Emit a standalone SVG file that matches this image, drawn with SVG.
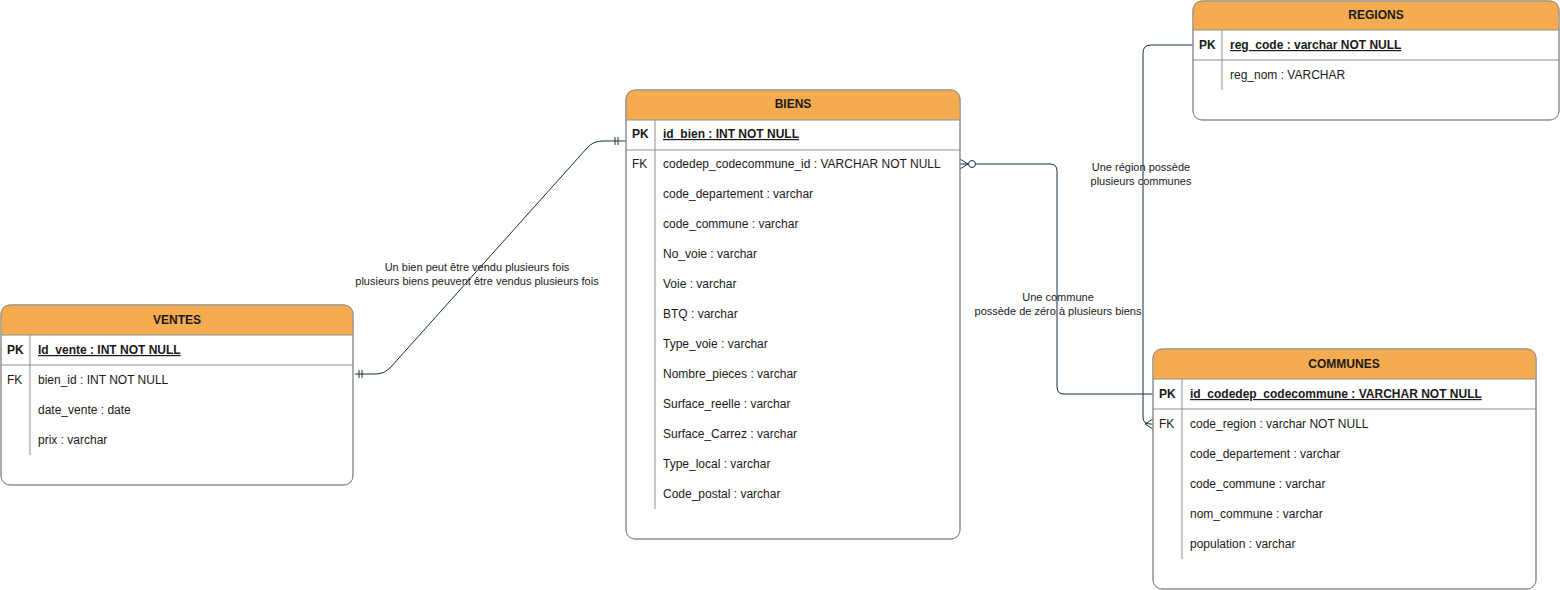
<svg xmlns="http://www.w3.org/2000/svg" width="1560" height="590" viewBox="0 0 1560 590">
<style>
text{font-family:"Liberation Sans",Arial,Helvetica,sans-serif;font-size:12px;fill:#1a1a1a}
.h{font-weight:bold;text-anchor:middle}
.pk{font-weight:bold}
.u{font-weight:bold;text-decoration:underline}
.lbl{font-size:11px;text-anchor:middle}
.box{fill:#ffffff;stroke:#8f8f8f;stroke-width:1}
.out{fill:none;stroke:#8f8f8f;stroke-width:1}
.hd{fill:#F5AB50}
.ln{stroke:#8f8f8f;stroke-width:1;fill:none}
.c{fill:none;stroke:#182E3E;stroke-width:1}
</style>
<rect width="1560" height="590" fill="#ffffff"/>
<g id="connectors">
  <path class="c" d="M355,374 L377,374 Q384,374 390,368 L587,148 Q593,141 603,141 L626,141"/>
  <path class="c" d="M359,370 V378 M362,370 V378"/>
  <path class="c" d="M615,137 V145 M618,137 V145"/>
  <path class="c" d="M976,164 L1050,164 Q1057,164 1057,171 L1057,387 Q1057,394 1064,394 L1153,394"/>
  <path class="c" d="M960,164 H968 M960,159 L968,164 L960,169"/>
  <circle cx="972" cy="164" r="3.5" fill="#ffffff" stroke="#182E3E" stroke-width="1"/>
  <path class="c" d="M1193,45 L1151,45 Q1143,45 1143,53 L1143,417 Q1143,424 1150,424 L1153,424"/>
  <path class="c" d="M1153,419 L1145,424 L1153,429"/>
  <text class="lbl" x="477" y="271">Un bien peut être vendu plusieurs fois</text>
  <text class="lbl" x="477" y="285">plusieurs biens peuvent être vendus plusieurs fois</text>
  <text class="lbl" x="1141" y="171">Une région possède</text>
  <text class="lbl" x="1141" y="185">plusieurs communes</text>
  <text class="lbl" x="1058" y="301">Une commune</text>
  <text class="lbl" x="1058" y="315">possède de zéro à plusieurs biens</text>
</g>
<g id="ventes">
  <rect class="box" x="1" y="305" width="352" height="180" rx="9"/>
  <path class="hd" d="M1,335 V314 Q1,305 10,305 H344 Q353,305 353,314 V335 Z"/>
  <rect class="out" x="1" y="305" width="352" height="180" rx="9"/>
  <path class="ln" d="M1,335 H353 M1,365 H353 M30,335 V455"/>
  <text class="h" x="177" y="324">VENTES</text>
  <text class="pk" x="7" y="354">PK</text>
  <text class="u" x="38" y="354">Id_vente : INT NOT NULL</text>
  <text x="7" y="384">FK</text>
  <text x="38" y="384">bien_id : INT NOT NULL</text>
  <text x="38" y="414">date_vente : date</text>
  <text x="38" y="444">prix : varchar</text>
</g>
<g id="biens">
  <rect class="box" x="626" y="90" width="334" height="449" rx="9"/>
  <path class="hd" d="M626,120 V99 Q626,90 635,90 H951 Q960,90 960,99 V120 Z"/>
  <rect class="out" x="626" y="90" width="334" height="449" rx="9"/>
  <path class="ln" d="M626,120 H960 M626,150 H960 M655,120 V509"/>
  <text class="h" x="793" y="108">BIENS</text>
  <text class="pk" x="632" y="138">PK</text>
  <text class="u" x="663" y="138">id_bien : INT NOT NULL</text>
  <text x="632" y="168">FK</text>
  <text x="663" y="168">codedep_codecommune_id : VARCHAR NOT NULL</text>
  <text x="663" y="198">code_departement : varchar</text>
  <text x="663" y="228">code_commune : varchar</text>
  <text x="663" y="258">No_voie : varchar</text>
  <text x="663" y="288">Voie : varchar</text>
  <text x="663" y="318">BTQ : varchar</text>
  <text x="663" y="348">Type_voie : varchar</text>
  <text x="663" y="378">Nombre_pieces : varchar</text>
  <text x="663" y="408">Surface_reelle : varchar</text>
  <text x="663" y="438">Surface_Carrez : varchar</text>
  <text x="663" y="468">Type_local : varchar</text>
  <text x="663" y="498">Code_postal : varchar</text>
</g>
<g id="regions">
  <rect class="box" x="1193" y="1" width="366" height="119" rx="9"/>
  <path class="hd" d="M1193,30 V10 Q1193,1 1202,1 H1550 Q1559,1 1559,10 V30 Z"/>
  <rect class="out" x="1193" y="1" width="366" height="119" rx="9"/>
  <path class="ln" d="M1193,30 H1559 M1193,60 H1559 M1222,30 V90"/>
  <text class="h" x="1376" y="19">REGIONS</text>
  <text class="pk" x="1199" y="49">PK</text>
  <text class="u" x="1230" y="49">reg_code : varchar NOT NULL</text>
  <text x="1230" y="79">reg_nom : VARCHAR</text>
</g>
<g id="communes">
  <rect class="box" x="1153" y="349" width="383" height="240" rx="9"/>
  <path class="hd" d="M1153,379 V358 Q1153,349 1162,349 H1527 Q1536,349 1536,358 V379 Z"/>
  <rect class="out" x="1153" y="349" width="383" height="240" rx="9"/>
  <path class="ln" d="M1153,379 H1536 M1153,409 H1536 M1182,379 V559"/>
  <text class="h" x="1344" y="368">COMMUNES</text>
  <text class="pk" x="1159" y="398">PK</text>
  <text class="u" x="1190" y="398">id_codedep_codecommune : VARCHAR NOT NULL</text>
  <text x="1159" y="428">FK</text>
  <text x="1190" y="428">code_region : varchar NOT NULL</text>
  <text x="1190" y="458">code_departement : varchar</text>
  <text x="1190" y="488">code_commune : varchar</text>
  <text x="1190" y="518">nom_commune : varchar</text>
  <text x="1190" y="548">population : varchar</text>
</g>
</svg>
